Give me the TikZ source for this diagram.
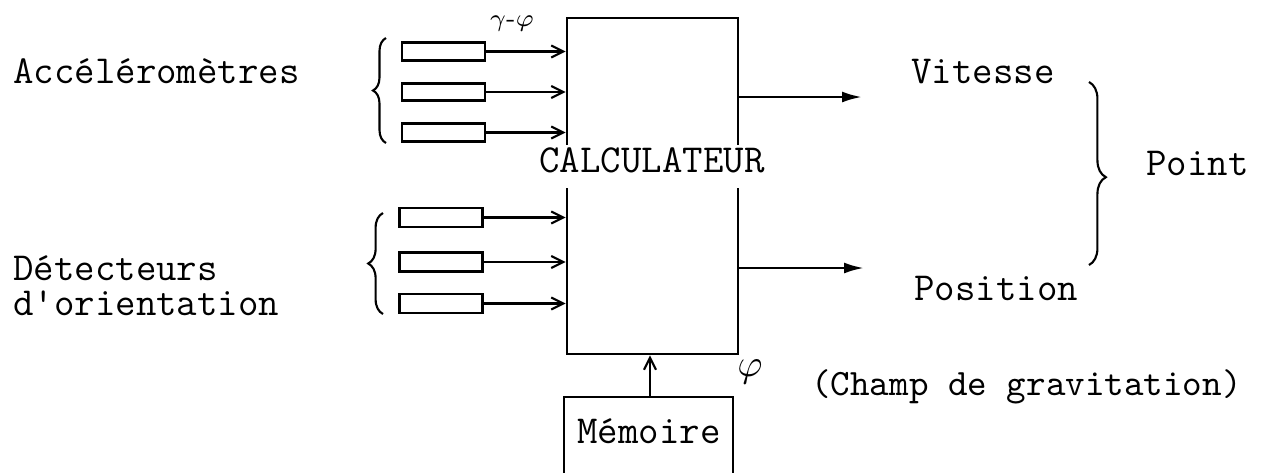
\documentclass[tikz,border=0pt]{standalone}
\usetikzlibrary{arrows.meta,decorations.pathreplacing}
\begin{document}
\begin{tikzpicture}[x=0.1mm,y=-0.1mm,line width=0.75pt,
  txt/.style={font=\fontsize{11.3}{13}\selectfont\ttfamily,inner sep=0pt,anchor=base west},
  sensor/.style={draw,line width=0.75pt,minimum width=8.3mm,minimum height=1.75mm,inner sep=0pt},
  inarrow/.style={-{Straight Barb[length=1.2mm,width=1.2mm,line width=0.6pt]}},
  outarrow/.style={-{Latex[length=2mm,width=1.1mm]}},
  bracestyle/.style={decorate,line width=0.6pt}]
\useasboundingbox (0,0) rectangle (1271,472);

% main computer box
\node[draw,line width=0.8pt,minimum width=17.1mm,minimum height=33.6mm,inner sep=0pt] (calc) at (652.5,186) {};
\node[txt,anchor=base,fill=white,text height=2.7mm,text depth=1.6mm,inner xsep=3pt] (ctext) at (652,172) {CALCULATEUR};

% accelerometers
\node[sensor] (a1) at (443.5,51.5) {};
\node[sensor] (a2) at (443.5,92) {};
\node[sensor] (a3) at (443.5,132.5) {};
\foreach \s in {a1,a2,a3}
  \draw[inarrow] (\s.east) -- (\s.east -| calc.west);

% orientation detectors
\node[sensor,minimum height=1.9mm] (d1) at (441,217.5) {};
\node[sensor,minimum height=1.9mm] (d2) at (441,262) {};
\node[sensor,minimum height=1.9mm] (d3) at (441,303.5) {};
\foreach \s in {d1,d2,d3}
  \draw[inarrow] (\s.east) -- (\s.east -| calc.west);

% left braces
\draw[bracestyle,decoration={brace,amplitude=3.7pt}] (386,143) -- (386,38);
\draw[bracestyle,decoration={brace,amplitude=4.2pt}] (383,314) -- (383,213);

% left labels
\node[txt] (acc) at (12,83) {Accéléromètres};
\node[txt] (det1) at (12,280) {Détecteurs};
\node[txt] (det2) at (12,315) {d\textquotesingle orientation};

% gamma - phi
\node[inner sep=0pt,font=\fontsize{7}{8}\selectfont] (gp) at (512,24) {$\gamma\mbox{-}\varphi$};

% outputs
\coordinate (vend) at (862,97);
\coordinate (pend) at (864,268);
\draw[outarrow] (calc.east |- vend) -- (vend);
\draw[outarrow] (calc.east |- pend) -- (pend);
\node[txt] (vit) at (910,83) {Vitesse};
\node[txt] (pos) at (913,300) {Position};
\draw[bracestyle,decoration={brace,amplitude=4.8pt,aspect=0.52}] (1089,82) -- (1089,265);
\node[txt] (pt) at (1145,175) {Point};

% memory
\draw[line width=0.8pt] (564,490) -- (564,397) -- (733,397) -- (733,490);
\coordinate (memtop) at (650,397);
\node[txt,anchor=base] (mem) at (649,443) {Mémoire};
\draw[inarrow] (memtop) -- (memtop |- calc.south);
\node[inner sep=0pt,font=\fontsize{11}{12}\selectfont] (phi) at (750,372) {$\varphi$};
\node[txt,font=\fontsize{10.6}{12}\selectfont\ttfamily] (champ) at (810,395) {(Champ de gravitation)};
\end{tikzpicture}
\end{document}
